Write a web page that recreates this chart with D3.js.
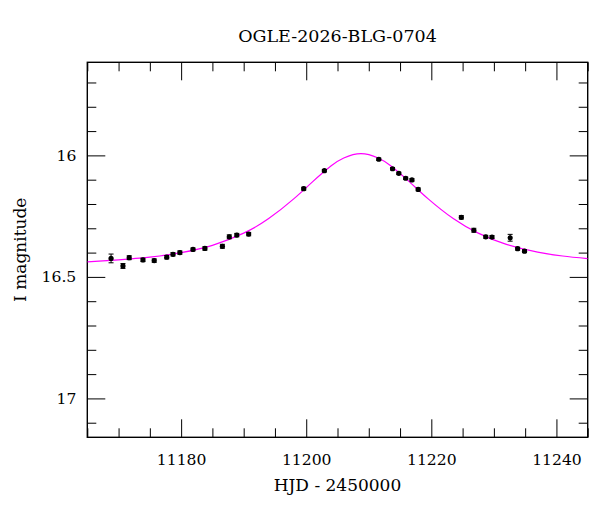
<!DOCTYPE html>
<html>
<head>
<meta charset="utf-8">
<script src="https://cdn.jsdelivr.net/npm/d3@7"></script>
<style>
  body { margin: 0; background: #fff; }
  text { font-family: "DejaVu Serif", serif; fill: #000; }
</style>
</head>
<body>
<div id="chart"></div>
<script>
// observed points (HJD - 2450000, I mag, error)
var obsT = [11168.8, 11170.7, 11171.7, 11173.9, 11175.7, 11177.7, 11178.7, 11179.8, 11181.9, 11183.8,
            11186.6, 11187.7, 11188.9, 11190.8, 11199.6, 11202.9, 11211.6, 11213.8, 11214.8, 11215.9,
            11216.9, 11217.9, 11224.8, 11226.8, 11228.7, 11229.7, 11232.6, 11233.8, 11234.9];
var obsMag = [16.424, 16.455, 16.421, 16.430, 16.433, 16.419, 16.407, 16.400, 16.387, 16.383,
              16.374, 16.335, 16.328, 16.324, 16.137, 16.063, 16.016, 16.055, 16.074, 16.094,
              16.101, 16.140, 16.255, 16.308, 16.335, 16.336, 16.339, 16.384, 16.394];
var obsErr = [0.018, 0.010, 0.008, 0.007, 0.007, 0.007, 0.007, 0.007, 0.006, 0.007,
              0.008, 0.008, 0.007, 0.007, 0.006, 0.005, 0.005, 0.005, 0.005, 0.005,
              0.005, 0.006, 0.007, 0.008, 0.006, 0.006, 0.014, 0.006, 0.006];

// model curve
var curveT = [11165, 11170, 11175, 11180, 11185, 11190, 11194, 11198, 11201, 11204, 11206,
              11208.75, 11211.5, 11213.5, 11216.5, 11219.5, 11223.5, 11227.5, 11232, 11237, 11241, 11245];
var curveMag = [16.438, 16.430, 16.419, 16.400, 16.370, 16.320, 16.260, 16.179, 16.109, 16.043, 16.011,
                15.993, 16.011, 16.043, 16.109, 16.179, 16.260, 16.320, 16.366, 16.398, 16.414, 16.425];

// tick labels
var xTickLabels = [11180, 11200, 11220, 11240];
var yTickValues = [16, 16.5, 17];
var yTickLabels = ["16", "16.5", "17"];

var title = "OGLE-2026-BLG-0704";
var xTitle = "HJD - 2450000";
var yTitle = "I magnitude";

var margin = { top: 62.3, right: 12.3, bottom: 74.7, left: 87.3 };
var width = 600 - margin.left - margin.right,
    height = 512 - margin.top - margin.bottom;

var svg = d3.select("#chart").append("svg")
    .attr("width", 600)
    .attr("height", 512);

var g = svg.append("g")
    .attr("transform", "translate(" + margin.left + "," + margin.top + ")");

var x = d3.scaleLinear().domain([11165, 11245]).range([0, width]);
var y = d3.scaleLinear().domain([15.617, 17.16]).range([0, height]);

var xMinor = d3.range(11165, 11246, 5).filter(d => xTickLabels.indexOf(d) < 0);
var yMinor = d3.range(157, 172).map(d => d / 10).filter(d => yTickValues.indexOf(d) < 0);

function styleAxis(sel) {
    sel.select(".domain").remove();
    sel.selectAll(".tick line").attr("stroke", "#000").attr("stroke-width", 1);
    sel.selectAll(".tick text").style("font-family", "DejaVu Serif").style("font-size", "15.6px").attr("fill", "#000");
}

// bottom
g.append("g").attr("transform", "translate(0," + height + ")")
    .call(d3.axisBottom(x).tickValues(xTickLabels).tickSize(-18).tickPadding(17).tickFormat(d3.format("d")))
    .call(styleAxis);
g.append("g").attr("transform", "translate(0," + height + ")")
    .call(d3.axisBottom(x).tickValues(xMinor).tickSize(-9).tickFormat(""))
    .call(styleAxis);
// top
g.append("g")
    .call(d3.axisTop(x).tickValues(xTickLabels).tickSize(-18).tickFormat(""))
    .call(styleAxis);
g.append("g")
    .call(d3.axisTop(x).tickValues(xMinor).tickSize(-9).tickFormat(""))
    .call(styleAxis);
// left
g.append("g")
    .call(d3.axisLeft(y).tickValues(yTickValues).tickSize(-18).tickPadding(11)
        .tickFormat((d, i) => yTickLabels[i]))
    .call(styleAxis);
g.append("g")
    .call(d3.axisLeft(y).tickValues(yMinor).tickSize(-9).tickFormat(""))
    .call(styleAxis);
// right
g.append("g").attr("transform", "translate(" + width + ",0)")
    .call(d3.axisRight(y).tickValues(yTickValues).tickSize(-18).tickFormat(""))
    .call(styleAxis);
g.append("g").attr("transform", "translate(" + width + ",0)")
    .call(d3.axisRight(y).tickValues(yMinor).tickSize(-9).tickFormat(""))
    .call(styleAxis);

// frame
g.append("rect")
    .attr("width", width)
    .attr("height", height)
    .attr("fill", "none")
    .attr("stroke", "#000")
    .attr("stroke-width", 1.4);

// clip
g.append("clipPath").attr("id", "clip")
    .append("rect").attr("width", width).attr("height", height);

// model curve
var line = d3.line()
    .x(d => x(d[0]))
    .y(d => y(d[1]))
    .curve(d3.curveNatural);

g.append("path")
    .datum(curveT.map((t, i) => [t, curveMag[i]]))
    .attr("clip-path", "url(#clip)")
    .attr("fill", "none")
    .attr("stroke", "#ff00ff")
    .attr("stroke-width", 1.2)
    .attr("d", line);

// data points
var pts = obsT.map((t, i) => ({ t: t, m: obsMag[i], e: obsErr[i] }));

var errs = g.selectAll(".err").data(pts).enter().append("g").attr("class", "err");
errs.append("line")
    .attr("x1", d => x(d.t)).attr("x2", d => x(d.t))
    .attr("y1", d => y(d.m - d.e)).attr("y2", d => y(d.m + d.e))
    .attr("stroke", "#000").attr("stroke-width", 1);
errs.append("line")
    .attr("x1", d => x(d.t) - 2.5).attr("x2", d => x(d.t) + 2.5)
    .attr("y1", d => y(d.m - d.e)).attr("y2", d => y(d.m - d.e))
    .attr("stroke", "#000").attr("stroke-width", 1);
errs.append("line")
    .attr("x1", d => x(d.t) - 2.5).attr("x2", d => x(d.t) + 2.5)
    .attr("y1", d => y(d.m + d.e)).attr("y2", d => y(d.m + d.e))
    .attr("stroke", "#000").attr("stroke-width", 1);

g.selectAll(".dot").data(pts).enter().append("circle")
    .attr("class", "dot")
    .attr("cx", d => x(d.t))
    .attr("cy", d => y(d.m))
    .attr("r", 2.6)
    .attr("fill", "#000");

// titles
svg.append("text")
    .attr("x", margin.left + width / 2)
    .attr("y", 42)
    .attr("text-anchor", "middle")
    .style("font-size", "17.5px")
    .text(title);

svg.append("text")
    .attr("x", margin.left + width / 2)
    .attr("y", 491)
    .attr("text-anchor", "middle")
    .style("font-size", "17px")
    .text(xTitle);

svg.append("text")
    .attr("transform", "translate(26," + (margin.top + height / 2) + ") rotate(-90)")
    .attr("text-anchor", "middle")
    .style("font-size", "17px")
    .text(yTitle);
</script>
</body>
</html>
